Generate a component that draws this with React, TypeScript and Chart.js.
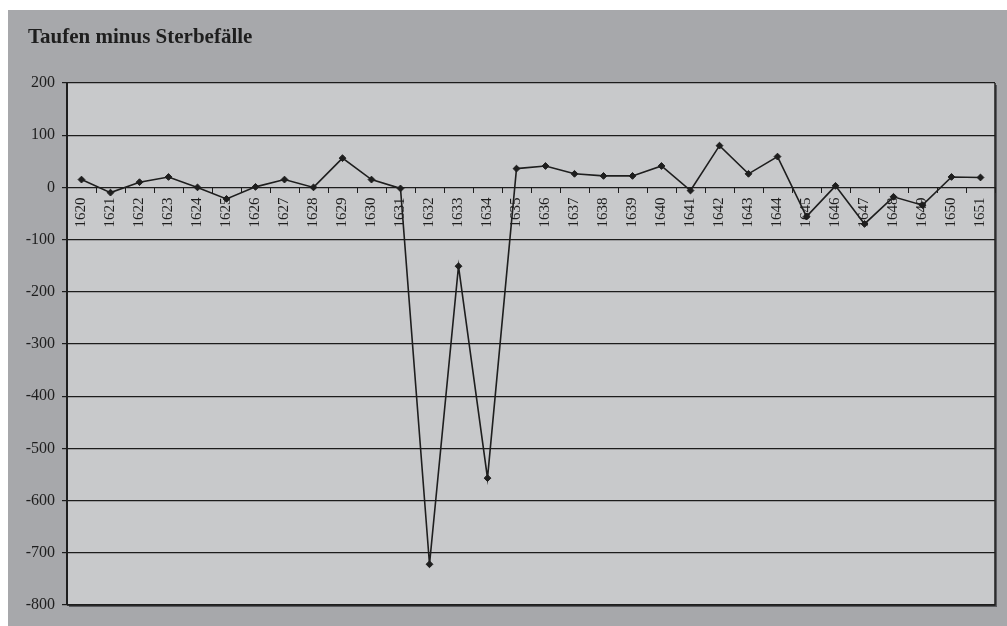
import React, { useEffect, useRef } from "react";
import { Chart, registerables } from "chart.js";

Chart.register(...registerables);

const chartTitle = "Taufen minus Sterbefälle";
const years = [
  "1620", "1621", "1622", "1623", "1624", "1625", "1626", "1627", "1628", "1629",
  "1630", "1631", "1632", "1633", "1634", "1635", "1636", "1637", "1638", "1639",
  "1640", "1641", "1642", "1643", "1644", "1645", "1646", "1647", "1648", "1649",
  "1650", "1651",
];
const differences = [
  15, -10, 10, 20, 0, -22, 1, 15, 0, 56,
  15, -2, -722, -151, -557, 36, 41, 26, 22, 22,
  41, -6, 80, 26, 59, -56, 3, -70, -18, -34,
  20, 19,
];
const yMin = -800;
const yMax = 200;
const yStep = 100;

const OUTER_BG = "#a7a8ab";
const PLOT_BG = "#c8c9cb";
const INK = "#1e1e1e";

const framePlugin = {
  id: "frameAndTitle",
  beforeDraw(chart: any) {
    const { ctx, chartArea } = chart;
    ctx.save();
    ctx.fillStyle = OUTER_BG;
    ctx.fillRect(0, 0, chart.width, chart.height);
    ctx.fillStyle = "#5a5b5f";
    ctx.fillRect(chartArea.left + 2, chartArea.top + 2, chartArea.right - chartArea.left, chartArea.bottom - chartArea.top);
    ctx.fillStyle = PLOT_BG;
    ctx.fillRect(chartArea.left, chartArea.top, chartArea.right - chartArea.left, chartArea.bottom - chartArea.top);
    ctx.fillStyle = INK;
    ctx.font = "bold 21px 'Liberation Serif', 'Times New Roman', serif";
    ctx.textBaseline = "alphabetic";
    ctx.textAlign = "left";
    ctx.fillText(chartTitle, 20, 33);
    ctx.restore();
  },
  afterDatasetsDraw(chart: any) {
    const { ctx, chartArea } = chart;
    ctx.save();
    ctx.strokeStyle = INK;
    ctx.lineWidth = 1.5;
    ctx.beginPath();
    ctx.moveTo(chartArea.right, chartArea.top);
    ctx.lineTo(chartArea.right, chartArea.bottom);
    ctx.lineTo(chartArea.left, chartArea.bottom);
    ctx.stroke();
    ctx.restore();
  },
};

export default function App() {
  const canvasRef = useRef<HTMLCanvasElement | null>(null);

  useEffect(() => {
    document.body.style.margin = "0";
    document.body.style.overflow = "hidden";
    const canvas = canvasRef.current;
    if (!canvas) return;
    const chart = new Chart(canvas, {
      type: "line",
      data: {
        labels: years,
        datasets: [
          {
            data: differences,
            borderColor: INK,
            borderWidth: 1.6,
            backgroundColor: INK,
            pointBackgroundColor: INK,
            pointBorderColor: INK,
            pointStyle: "rectRot",
            pointRadius: 3.4,
            pointBorderWidth: 1,
            tension: 0,
            fill: false,
          },
        ],
      },
      options: {
        animation: false,
        responsive: false,
        maintainAspectRatio: false,
        layout: { padding: { left: 0, right: 12, top: 73, bottom: 21 } },
        plugins: {
          legend: { display: false },
          title: { display: false },
          tooltip: { enabled: false },
        },
        scales: {
          x: {
            type: "category",
            position: { y: 0 },
            offset: true,
            grid: {
              display: true,
              offset: true,
              drawOnChartArea: false,
              drawTicks: true,
              tickLength: 5,
              color: INK,
              lineWidth: 1,
            },
            border: { display: true, color: INK, width: 1 },
            ticks: {
              autoSkip: false,
              minRotation: 90,
              maxRotation: 90,
              padding: 5,
              color: INK,
              font: { family: "'Liberation Serif', 'Times New Roman', serif", size: 15 },
            },
          },
          y: {
            min: yMin,
            max: yMax,
            afterFit(scale: any) {
              scale.width = 59;
            },
            grid: {
              color: "#1c1c1c",
              lineWidth: 1.2,
              drawTicks: true,
              tickLength: 5,
            },
            border: { display: true, color: INK, width: 2 },
            ticks: {
              stepSize: yStep,
              padding: 7,
              color: INK,
              font: { family: "'Liberation Serif', 'Times New Roman', serif", size: 16 },
            },
          },
        },
      },
      plugins: [framePlugin],
    });
    return () => chart.destroy();
  }, []);

  return (
    <div style={{ position: "absolute", left: 8, top: 10, width: 999, height: 616 }}>
      <canvas ref={canvasRef} width={999} height={616} style={{ display: "block" }} />
    </div>
  );
}
